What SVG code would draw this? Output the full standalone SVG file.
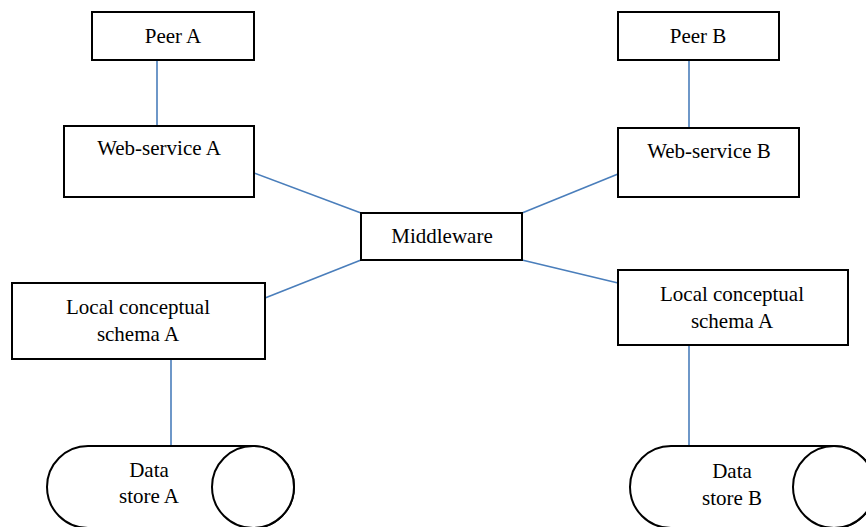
<svg xmlns="http://www.w3.org/2000/svg" width="866" height="527" viewBox="0 0 866 527">
<style>
.box{fill:#fff;stroke:#000;stroke-width:2}
.ds{fill:#fff;stroke:#000;stroke-width:2}
.t{font-family:"Liberation Serif","Times New Roman",serif;font-size:21px;fill:#000;text-anchor:middle}
.c{stroke:#4A7EBB;stroke-width:1.6;fill:none}
</style>
<rect width="866" height="527" fill="#fff"/>
<g id="connectors">
<line class="c" x1="157" y1="60" x2="157" y2="126"/>
<line class="c" x1="689" y1="60" x2="689" y2="128"/>
<line class="c" x1="254" y1="173" x2="361" y2="213"/>
<line class="c" x1="618" y1="174" x2="522" y2="213"/>
<line class="c" x1="361" y1="260" x2="265" y2="298"/>
<line class="c" x1="522" y1="260" x2="618" y2="283"/>
<line class="c" x1="171" y1="359" x2="171" y2="446"/>
<line class="c" x1="689" y1="345" x2="689" y2="446"/>
</g>
<g id="peerA">
<rect class="box" x="92" y="12" width="162" height="48"/>
<text class="t" x="173" y="43">Peer A</text>
</g>
<g id="peerB">
<rect class="box" x="618" y="12" width="161" height="48"/>
<text class="t" x="698" y="43">Peer B</text>
</g>
<g id="wsA">
<rect class="box" x="64" y="126" width="190" height="71"/>
<text class="t" x="159" y="155">Web-service A</text>
</g>
<g id="wsB">
<rect class="box" x="618" y="128" width="181" height="69"/>
<text class="t" x="709" y="158">Web-service B</text>
</g>
<g id="middleware">
<rect class="box" x="361" y="213" width="161" height="47"/>
<text class="t" x="442" y="243">Middleware</text>
</g>
<g id="lcsA">
<rect class="box" x="12" y="283" width="253" height="76"/>
<text class="t" x="138" y="314">Local conceptual</text>
<text class="t" x="138" y="341">schema A</text>
</g>
<g id="lcsB">
<rect class="box" x="618" y="270" width="230" height="75"/>
<text class="t" x="732" y="301">Local conceptual</text>
<text class="t" x="732" y="328">schema A</text>
</g>
<g id="dsA">
<path class="ds" d="M88 446 H253 A41 41 0 0 1 253 528 H88 A41 41 0 0 1 88 446 Z"/>
<circle class="ds" cx="253" cy="487" r="41"/>
<text class="t" x="149" y="477">Data</text>
<text class="t" x="149" y="503">store A</text>
</g>
<g id="dsB">
<path class="ds" d="M671 446 H834 A41 41 0 0 1 834 528 H671 A41 41 0 0 1 671 446 Z"/>
<circle class="ds" cx="834" cy="487" r="41"/>
<text class="t" x="732" y="478">Data</text>
<text class="t" x="732" y="505">store B</text>
</g>
</svg>
